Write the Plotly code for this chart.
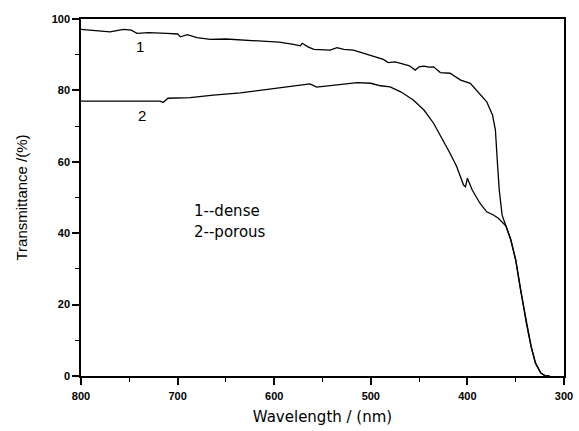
import plotly.graph_objects as go

# Curve 1 (dense)
wl_dense = [800, 785, 770, 756, 748, 742, 730, 711, 700, 697, 690, 680, 666, 650, 635, 620,
            607, 595, 580, 573, 571, 565, 559, 550, 542, 535, 528, 518, 507, 494, 487, 482,
            475, 469, 460, 454, 450, 445, 440, 435, 428, 418, 407, 397, 389, 380, 374, 371,
            369, 367, 364, 360, 355, 350, 345, 339, 334, 329.5, 324, 319, 315]
t_dense = [97.1, 96.8, 96.4, 97.1, 96.9, 96.0, 96.2, 96.0, 95.8, 95.0, 95.6, 94.8, 94.3, 94.4,
           94.1, 93.8, 93.6, 93.5, 92.9, 92.5, 93.2, 92.2, 91.5, 91.4, 91.3, 92.0, 91.5, 91.3,
           90.4, 89.2, 88.7, 87.8, 88.0, 87.6, 86.9, 85.7, 86.6, 86.8, 86.5, 86.6, 85.0, 84.8,
           82.9, 82.0, 79.6, 76.8, 73.1, 68.9, 60.0, 52.0, 45.0, 42.0, 38.1, 32.5, 24.1, 14.8,
           8.2, 3.6, 0.8, 0.0, 0.0]

# Curve 2 (porous)
wl_porous = [800, 760, 718, 715, 710, 687, 663, 635, 611, 586, 563, 556, 542, 514, 500, 490,
             480, 469, 456, 445, 435, 425, 418, 411, 404, 402, 400, 395, 387, 380, 373, 368,
             364, 360, 355, 350, 345, 339, 334, 329.5, 324, 319, 315]
t_porous = [77.0, 77.0, 77.0, 76.6, 77.8, 78.0, 78.7, 79.3, 80.1, 81.0, 81.8, 80.9, 81.3, 82.2,
            82.0, 81.3, 81.0, 79.6, 77.3, 74.5, 70.8, 66.1, 62.4, 58.6, 53.5, 53.0, 55.4, 52.1,
            48.4, 46.0, 45.1, 44.2, 43.2, 42.0, 38.1, 32.5, 24.1, 14.8, 8.2, 3.6, 0.8, 0.0, 0.0]

x_ticks = [800, 700, 600, 500, 400, 300]
y_ticks = [0, 20, 40, 60, 80, 100]

FONT = "Arial, Liberation Sans, sans-serif"
WIDE = "DejaVu Sans, sans-serif"

fig = go.Figure()
fig.add_trace(go.Scatter(x=wl_dense, y=t_dense, mode="lines",
                         line=dict(color="black", width=1.3), showlegend=False))
fig.add_trace(go.Scatter(x=wl_porous, y=t_porous, mode="lines",
                         line=dict(color="black", width=1.3), showlegend=False))

ann = [
    dict(x=739, y=92.2, text="1"),
    dict(x=737, y=73.1, text="2"),
]
for a in ann:
    fig.add_annotation(x=a["x"], y=a["y"], text=a["text"], showarrow=False,
                       font=dict(family=FONT, size=15, color="black"))
fig.add_annotation(x=685, y=46.3, text="1--dense", showarrow=False, xanchor="left",
                   font=dict(family=WIDE, size=15, color="black"))
fig.add_annotation(x=685, y=40.3, text="2--porous", showarrow=False, xanchor="left",
                   font=dict(family=WIDE, size=15, color="black"))

fig.update_xaxes(range=[800, 300], tickvals=x_ticks, ticks="outside", ticklen=7, tickwidth=1.5,
                 tickcolor="black", showline=True, linecolor="black", linewidth=1.5, mirror=True,
                 showgrid=False, zeroline=False, ticklabelstandoff=2, automargin=False,
                 minor=dict(dtick=50, tick0=300, ticks="outside", ticklen=4, tickwidth=1.2, tickcolor="black"),
                 tickfont=dict(family=FONT, size=11, color="black", weight="bold"),
                 title=dict(text="Wavelength / (nm)", font=dict(family=WIDE, size=15, color="black"), standoff=11))
fig.update_yaxes(range=[0, 100], tickvals=y_ticks, ticks="outside", ticklen=7, tickwidth=1.5,
                 tickcolor="black", showline=True, linecolor="black", linewidth=1.5, mirror=True,
                 showgrid=False, zeroline=False, automargin=False,
                 minor=dict(dtick=10, tick0=0, ticks="outside", ticklen=4, tickwidth=1.2, tickcolor="black"),
                 tickfont=dict(family=FONT, size=11, color="black", weight="bold"),
                 title=dict(text="Transmittance /(%)", font=dict(family=FONT, size=15, color="black"), standoff=20))

fig.update_layout(width=579, height=431, margin=dict(l=81, r=15, t=19, b=55),
                  plot_bgcolor="white", paper_bgcolor="white")

fix = ("document.documentElement.style.margin='0';document.documentElement.style.overflow='hidden';"
       "document.body.style.margin='0';document.body.style.overflow='hidden';"
       "var p=document.body.firstElementChild;if(p){p.style.height='431px';p.style.overflow='hidden';}")
fig.write_html("out.html", config={"displayModeBar": False}, post_script=fix)
